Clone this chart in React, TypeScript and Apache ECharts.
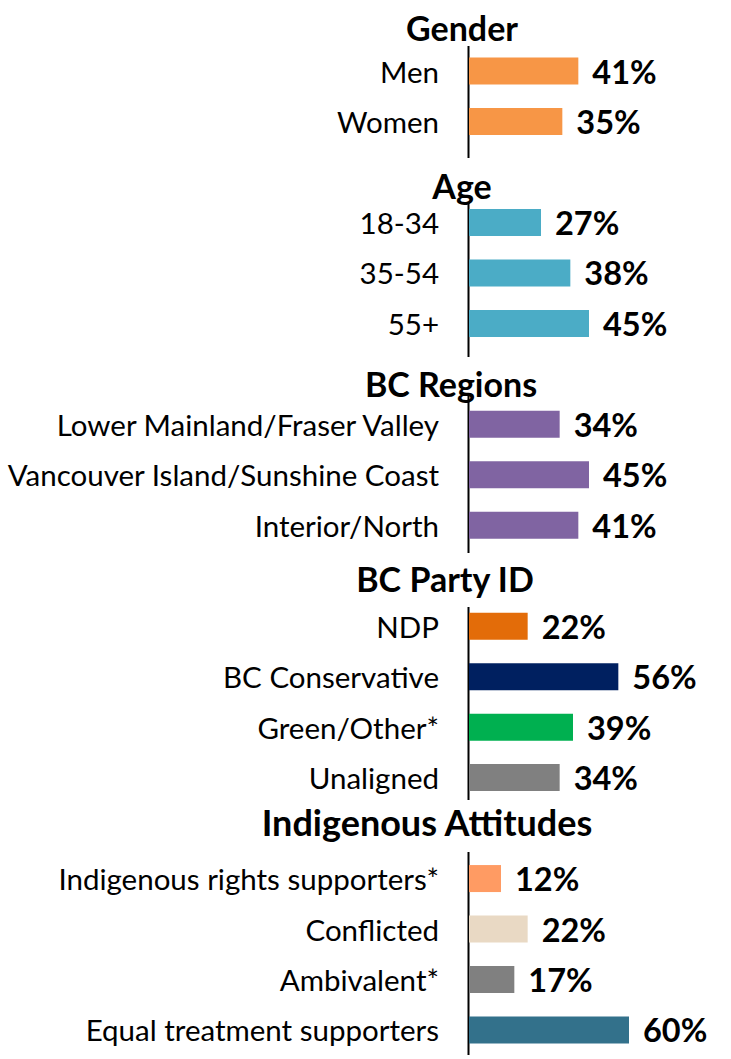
import React, { useEffect, useRef } from "react";
import * as echarts from "echarts";

// ---- data ----
const genderCats = ["Men", "Women"];
const genderVals = [41, 35];
const ageCats = ["18-34", "35-54", "55+"];
const ageVals = [27, 38, 45];
const regionCats = [
  "Lower Mainland/Fraser Valley",
  "Vancouver Island/Sunshine Coast",
  "Interior/North",
];
const regionVals = [34, 45, 41];
const partyCats = ["NDP", "BC Conservative", "Green/Other*", "Unaligned"];
const partyVals = [22, 56, 39, 34];
const indigCats = [
  "Indigenous rights supporters*",
  "Conflicted",
  "Ambivalent*",
  "Equal treatment supporters",
];
const indigVals = [12, 22, 17, 60];
const sectionTitles = [
  "Gender",
  "Age",
  "BC Regions",
  "BC Party ID",
  "Indigenous Attitudes",
];

// ---- styles ----
const genderColors = ["#F79646", "#F79646"];
const ageColors = ["#4BACC6", "#4BACC6", "#4BACC6"];
const regionColors = ["#8064A2", "#8064A2", "#8064A2"];
const partyColors = ["#E36C09", "#002060", "#00B050", "#808080"];
const indigColors = ["#FF9B63", "#E9D9C4", "#808080", "#33718B"];
const titlePos = [
  [462, 27],
  [462, 185],
  [451, 383],
  [445, 578],
  [427, 822],
];
const titleSizes = [34, 34, 34, 34, 36];
const axisSegments = [
  [46, 158],
  [203, 357],
  [396, 553],
  [607, 800],
  [852, 1055],
];

export default function App() {
  const ref = useRef<HTMLDivElement>(null);
  useEffect(() => {
    if (!ref.current) return;
    const chart = echarts.init(ref.current, null, { renderer: "svg" });

    const sections = [
      { cats: genderCats, vals: genderVals, colors: genderColors },
      { cats: ageCats, vals: ageVals, colors: ageColors },
      { cats: regionCats, vals: regionVals, colors: regionColors },
      { cats: partyCats, vals: partyVals, colors: partyColors },
      { cats: indigCats, vals: indigVals, colors: indigColors },
    ];
    const cats: string[] = [];
    const data: any[] = [];
    sections.forEach((s, si) => {
      if (si > 0) {
        cats.push("gap" + si);
        data.push("-");
      }
      s.cats.forEach((c, i) => {
        cats.push(c);
        data.push({ value: s.vals[i], itemStyle: { color: s.colors[i] } });
      });
    });

    const graphics: any[] = [];
    sectionTitles.forEach((t, i) => {
      graphics.push({
        type: "text",
        x: titlePos[i][0],
        y: titlePos[i][1],
        style: {
          text: t,
          fontFamily: "Lato",
          fontWeight: "bold",
          fontSize: titleSizes[i],
          fill: "#000",
          align: "center",
          verticalAlign: "middle",
        },
      });
    });
    axisSegments.forEach((seg) => {
      graphics.push({
        type: "line",
        shape: { x1: 468.5, y1: seg[0], x2: 468.5, y2: seg[1] },
        style: { stroke: "#000", lineWidth: 2 },
      });
    });

    chart.setOption({
      animation: false,
      backgroundColor: "#fff",
      grid: { left: 469, right: 22, top: 45.8, bottom: 3.8 },
      xAxis: {
        type: "value",
        min: 0,
        max: 90,
        show: false,
      },
      yAxis: {
        type: "category",
        inverse: true,
        data: cats,
        axisLine: { show: false },
        axisTick: { show: false },
        axisLabel: {
          margin: 30,
          fontFamily: "Lato",
          fontSize: 29.5,
          color: "#000",
          formatter: (v: string) => (v.startsWith("gap") ? "" : v),
        },
      },
      series: [
        {
          type: "bar",
          data,
          barWidth: 27,
          label: {
            show: true,
            position: "right",
            distance: 14,
            formatter: "{c}%",
            fontFamily: "Lato",
            fontWeight: "bold",
            fontSize: 32.5,
            color: "#000",
          },
        },
      ],
      graphic: graphics,
    });
    return () => chart.dispose();
  }, []);
  return (
    <div
      ref={ref}
      style={{ position: "absolute", left: 0, top: 0, width: 731, height: 1059 }}
    />
  );
}
